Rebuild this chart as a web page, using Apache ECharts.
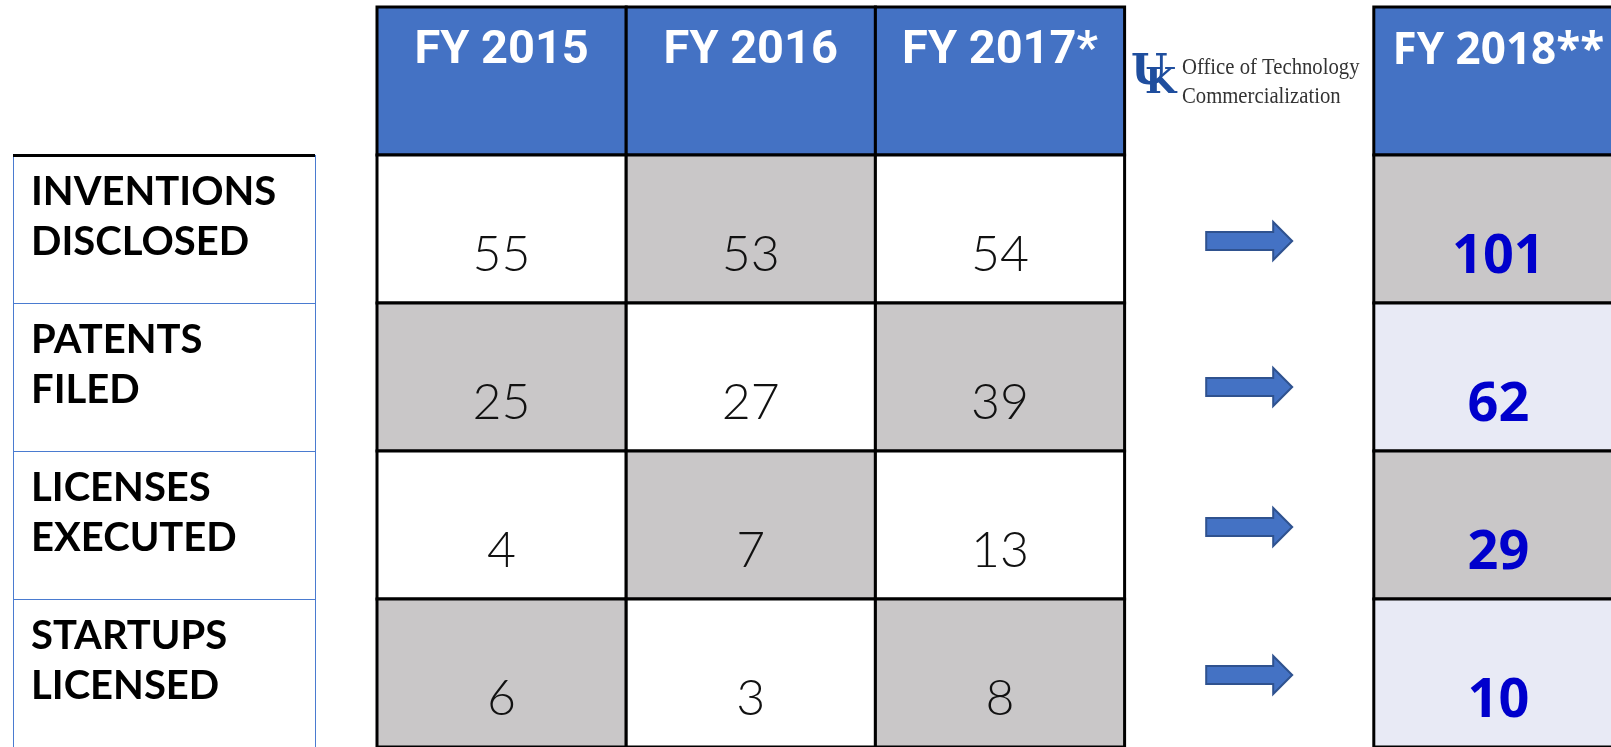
<!DOCTYPE html>
<html>
<head>
<meta charset="utf-8">
<script src="https://cdn.jsdelivr.net/npm/echarts@6/dist/echarts.min.js"></script>
<style>
  html, body { margin: 0; padding: 0; background: #fff; }
  #chart { width: 1611px; height: 747px; }
</style>
</head>
<body>
<div id="chart"></div>
<script>
// table data
const columns = ['FY 2015', 'FY 2016', 'FY 2017*', 'arrow', 'FY 2018**']
const rows = ['header', 'INVENTIONS\nDISCLOSED', 'PATENTS\nFILED', 'LICENSES\nEXECUTED', 'STARTUPS\nLICENSED']
const metrics = rows.slice(1)
const fy2015 = [55, 25, 4, 6]
const fy2016 = [53, 27, 7, 3]
const fy2017 = [54, 39, 13, 8]
const fy2018 = [101, 62, 29, 10]

const blue = '#4472C4'
const grey = '#C9C7C8'
const pale = '#E8EAF5'

// cell box from the category axes
function cellBox(api) {
  const p = api.coord([api.value(0), api.value(1)])
  const s = api.size([1, 1])
  return { x: p[0] - s[0] / 2, y: p[1] - s[1] / 2, w: s[0], h: s[1], cx: p[0], cy: p[1] }
}

const headerData = [0, 1, 2, 4].map(c => [c, 0])
const pastData = []
;[fy2015, fy2016, fy2017].forEach((vals, c) => {
  vals.forEach((v, r) => pastData.push([c, r + 1, v]))
})
const futureData = fy2018.map((v, r) => [4, r + 1, v])
const arrowData = metrics.map((m, r) => [3, r + 1])
const labelData = metrics.map((m, r) => [0, r + 1])

const series = [
  {
    type: 'custom',
    xAxisIndex: 0,
    yAxisIndex: 0,
    data: headerData,
    renderItem: (params, api) => {
      const b = cellBox(api)
      const name = columns[api.value(0)]
      const last = api.value(0) === 4
      return {
        type: 'group',
        children: [
          { type: 'rect', shape: { x: b.x, y: b.y, width: b.w, height: b.h },
            style: { fill: blue, stroke: '#000', lineWidth: 3 } },
          { type: 'text', style: { text: name, x: b.cx, y: b.y + 44, align: 'center', verticalAlign: 'middle',
            fill: '#fff', fontWeight: 'bold', fontSize: last ? 44 : 47,
            fontFamily: last ? 'Open Sans' : 'Roboto' } }
        ]
      }
    }
  },
  {
    type: 'custom',
    xAxisIndex: 0,
    yAxisIndex: 0,
    data: pastData,
    renderItem: (params, api) => {
      const b = cellBox(api)
      const c = api.value(0), r = api.value(1) - 1
      return {
        type: 'group',
        children: [
          { type: 'rect', shape: { x: b.x, y: b.y, width: b.w, height: b.h },
            style: { fill: (r + c) % 2 ? grey : '#fff', stroke: '#000', lineWidth: 3 } },
          { type: 'text', style: { text: String(api.value(2)), x: b.cx, y: b.cy + 26, align: 'center',
            verticalAlign: 'middle', fill: '#111', fontSize: 50, fontWeight: 300, fontFamily: 'Lato' } }
        ]
      }
    }
  },
  {
    type: 'custom',
    xAxisIndex: 0,
    yAxisIndex: 0,
    data: futureData,
    renderItem: (params, api) => {
      const b = cellBox(api)
      const r = api.value(1) - 1
      return {
        type: 'group',
        children: [
          { type: 'rect', shape: { x: b.x, y: b.y, width: b.w, height: b.h },
            style: { fill: r % 2 ? pale : grey, stroke: '#000', lineWidth: 3 } },
          { type: 'text', style: { text: String(api.value(2)), x: b.cx, y: b.cy + 29, align: 'center',
            verticalAlign: 'middle', fill: '#0000CC', fontSize: 54, fontWeight: 'bold', fontFamily: 'Open Sans' } }
        ]
      }
    }
  },
  {
    type: 'custom',
    xAxisIndex: 0,
    yAxisIndex: 0,
    data: arrowData,
    renderItem: (params, api) => {
      const b = cellBox(api)
      const dy = [12, 10, 2, 2][api.value(1) - 1]
      const x0 = b.cx - 43, x1 = b.cx + 24, x2 = b.cx + 43, y = b.cy + dy
      return {
        type: 'polygon',
        shape: { points: [[x0, y - 9], [x1, y - 9], [x1, y - 19], [x2, y], [x1, y + 19], [x1, y + 9], [x0, y + 9]] },
        style: { fill: blue, stroke: '#2F528F', lineWidth: 2 }
      }
    }
  },
  {
    type: 'custom',
    xAxisIndex: 1,
    yAxisIndex: 1,
    data: labelData,
    renderItem: (params, api) => {
      const b = cellBox(api)
      const r = api.value(1) - 1
      const line = '#4A7BD0'
      const children = [
        { type: 'line', shape: { x1: b.x + 0.5, y1: b.y, x2: b.x + 0.5, y2: b.y + b.h + 10 }, style: { stroke: line, lineWidth: 1 } },
        { type: 'line', shape: { x1: b.x + b.w + 0.5, y1: b.y, x2: b.x + b.w + 0.5, y2: b.y + b.h + 10 }, style: { stroke: line, lineWidth: 1 } },
        { type: 'line', shape: { x1: b.x, y1: b.y + 0.5, x2: b.x + b.w, y2: b.y + 0.5 },
          style: { stroke: r === 0 ? '#000' : line, lineWidth: r === 0 ? 3 : 1 } },
        { type: 'text', style: { text: metrics[r], x: b.x + 18, y: b.cy - 12, align: 'left', verticalAlign: 'middle',
          lineHeight: 50, fill: '#000', fontSize: 40, fontWeight: 'bold', fontFamily: 'Lato' } }
      ]
      return { type: 'group', children }
    }
  }
]

const chart = echarts.init(document.getElementById('chart'))
chart.setOption({
  animation: false,
  grid: [
    { left: 377, top: 7, width: 1246, height: 740, outerBoundsMode: 'none', containLabel: false },
    { left: 13, top: 7, width: 302, height: 740, outerBoundsMode: 'none', containLabel: false }
  ],
  xAxis: [
    { type: 'category', gridIndex: 0, data: columns, show: false },
    { type: 'category', gridIndex: 1, data: ['label'], show: false }
  ],
  yAxis: [
    { type: 'category', gridIndex: 0, data: rows, inverse: true, show: false },
    { type: 'category', gridIndex: 1, data: rows, inverse: true, show: false }
  ],
  graphic: [
    { type: 'text', x: 1131, y: 52, style: { text: 'U', fill: '#1F4E9E', fontSize: 42, fontWeight: 'bold', fontFamily: 'DejaVu Serif' } },
    { type: 'text', x: 1145, y: 66, style: { text: 'K', fill: '#1F4E9E', fontSize: 36, fontWeight: 'bold', fontFamily: 'DejaVu Serif' } },
    { type: 'text', x: 1182, y: 56, scaleX: 0.9, style: { text: 'Office of Technology', fill: '#333', fontSize: 23, fontFamily: 'Liberation Serif' } },
    { type: 'text', x: 1182, y: 85, scaleX: 0.9, style: { text: 'Commercialization', fill: '#333', fontSize: 23, fontFamily: 'Liberation Serif' } }
  ],
  series
})
</script>
</body>
</html>
